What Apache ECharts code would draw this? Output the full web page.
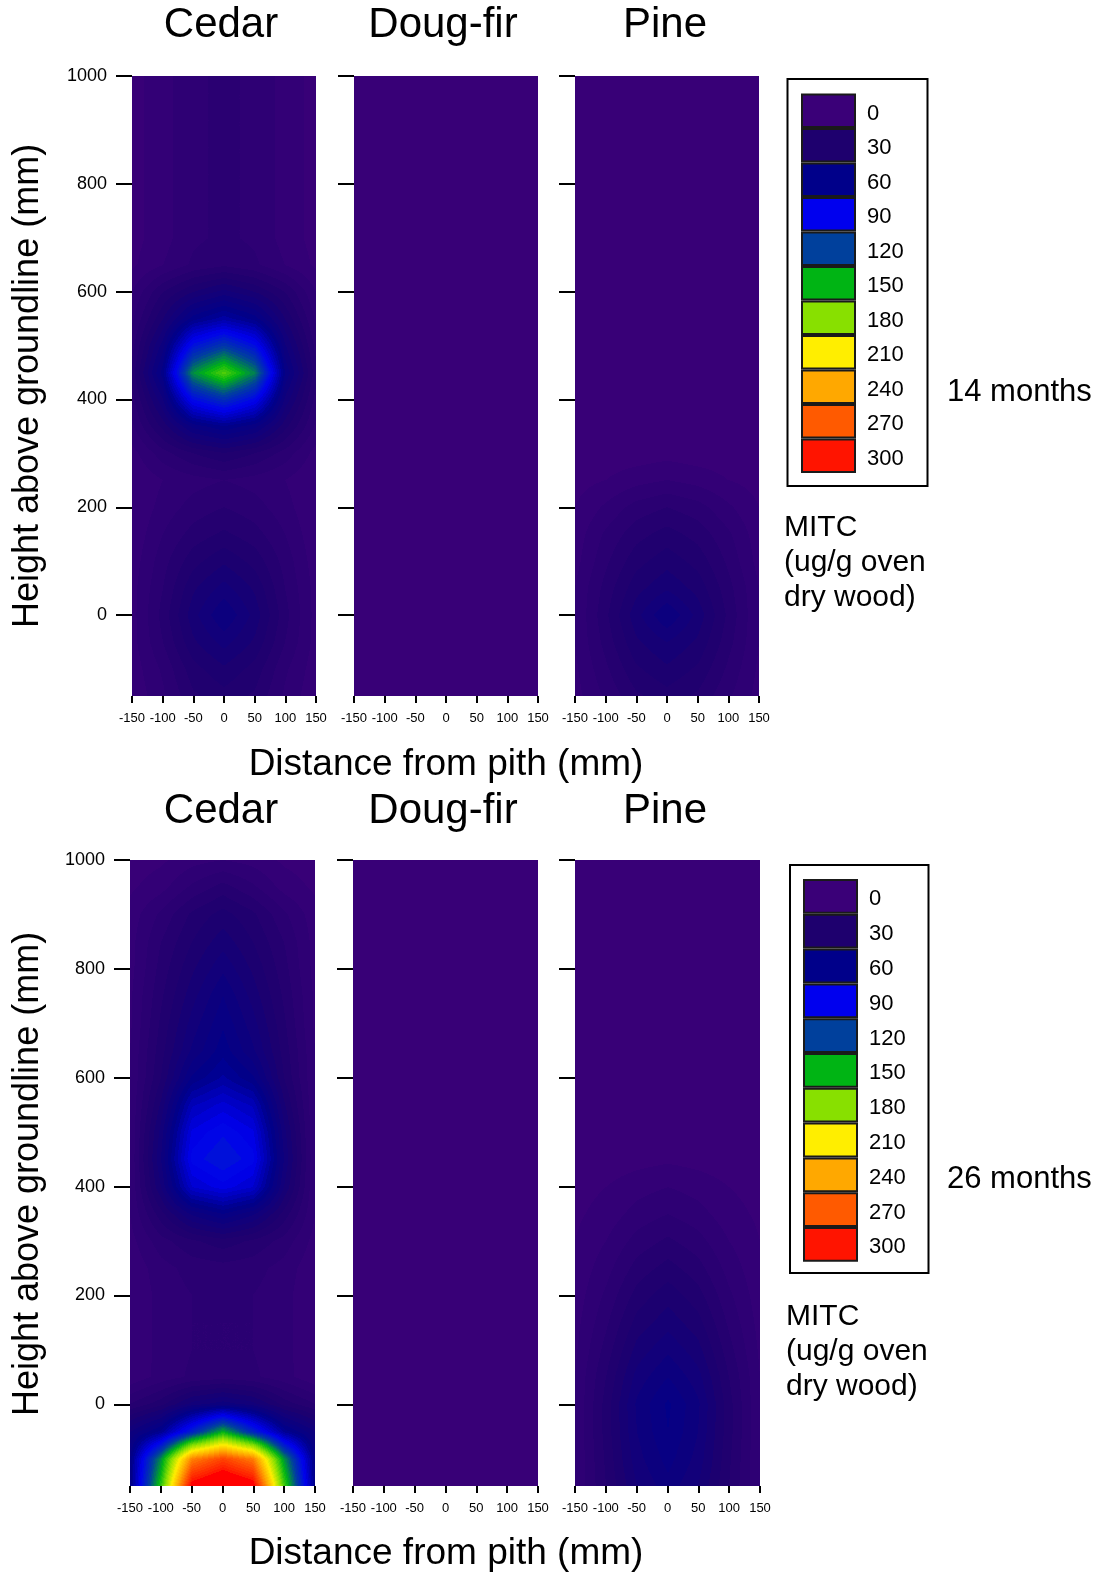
<!DOCTYPE html>
<html>
<head>
<meta charset="utf-8">
<script src="https://cdn.jsdelivr.net/npm/echarts@6/dist/echarts.min.js"></script>
<style>
  html, body { margin: 0; padding: 0; background: #fff; }
  #chart { width: 1101px; height: 1574px; }
</style>
</head>
<body>
<div id="chart"></div>
<script>
// Sampling grid: radial distance from pith (mm) and height above groundline (mm)
const distances = [-150, -100, -50, 0, 50, 100, 150];
const heights = [-150, -100, -50, 0, 50, 100, 150, 200, 250, 300, 350, 400,
                 450, 500, 550, 600, 650, 700, 750, 800, 850, 900, 950, 1000];
const heightsEnds = [-150, 1000];

// Contour levels of MITC (ug/g oven dry wood) and their fill colours
const levels = [0, 30, 60, 90, 120, 150, 180, 210, 240, 270, 300];
const levelColors = ['#3a0078', '#1e006e', '#00008a', '#0000ee', '#00409c', '#00b414',
                     '#88e000', '#ffee00', '#ffa800', '#ff5a00', '#ff1400'];

const species = ['Cedar', 'Doug-fir', 'Pine'];
const periods = ['14 months', '26 months'];
const unitLines = ['MITC', '(ug/g oven', 'dry wood)'];
const yTickValues = [0, 200, 400, 600, 800, 1000];

// MITC concentrations, one row per height (bottom to top), one column per distance
const cedar14 = [
  [6, 14, 24, 28, 24, 14, 6],
  [7, 16, 28, 34, 28, 16, 7],
  [8, 20, 34, 42, 34, 20, 8],
  [8, 22, 38, 50, 38, 22, 8],
  [8, 20, 34, 42, 34, 20, 8],
  [7, 18, 28, 34, 28, 18, 7],
  [6, 15, 22, 26, 22, 15, 6],
  [5, 12, 17, 20, 17, 12, 5],
  [5, 10, 13, 15, 13, 10, 5],
  [8, 18, 25, 30, 25, 18, 8],
  [14, 32, 52, 60, 52, 32, 14],
  [18, 45, 95, 112, 93, 44, 18],
  [22, 58, 140, 168, 136, 55, 22],
  [18, 48, 98, 116, 96, 46, 18],
  [14, 35, 58, 68, 58, 35, 14],
  [10, 25, 35, 42, 35, 25, 10],
  [4, 10, 16, 19, 16, 10, 4],
  [3, 8, 14, 16, 14, 8, 3],
  [3, 8, 14, 16, 14, 8, 3],
  [3, 8, 14, 16, 14, 8, 3],
  [3, 8, 14, 16, 14, 8, 3],
  [3, 8, 14, 16, 14, 8, 3],
  [3, 8, 14, 16, 14, 8, 3],
  [3, 8, 14, 16, 14, 8, 3]
];
const dougfir14 = [
  [2, 2, 2, 2, 2, 2, 2],
  [2, 2, 2, 2, 2, 2, 2]
];
const pine14 = [
  [8, 16, 24, 28, 24, 16, 8],
  [9, 19, 29, 34, 29, 19, 9],
  [10, 22, 34, 40, 34, 22, 10],
  [10, 24, 38, 50, 38, 24, 10],
  [10, 22, 33, 39, 33, 22, 10],
  [8, 19, 28, 33, 28, 19, 8],
  [7, 16, 23, 27, 23, 16, 7],
  [5, 11, 17, 20, 17, 11, 5],
  [3, 5, 8, 10, 8, 5, 3],
  [2, 2, 2, 3, 2, 2, 2],
  [2, 2, 2, 3, 2, 2, 2],
  [2, 2, 2, 3, 2, 2, 2],
  [2, 2, 2, 3, 2, 2, 2],
  [2, 2, 2, 3, 2, 2, 2],
  [2, 2, 2, 3, 2, 2, 2],
  [2, 2, 2, 3, 2, 2, 2],
  [2, 2, 2, 3, 2, 2, 2],
  [2, 2, 2, 3, 2, 2, 2],
  [2, 2, 2, 3, 2, 2, 2],
  [2, 2, 2, 3, 2, 2, 2],
  [2, 2, 2, 3, 2, 2, 2],
  [2, 2, 2, 3, 2, 2, 2],
  [2, 2, 2, 3, 2, 2, 2],
  [2, 2, 2, 3, 2, 2, 2]
];
const cedar26 = [
  [55, 160, 310, 330, 312, 165, 58],
  [55, 140, 255, 280, 257, 142, 55],
  [45, 62, 105, 150, 107, 64, 45],
  [20, 28, 42, 48, 42, 28, 20],
  [6, 12, 16, 18, 16, 12, 6],
  [5, 12, 15, 15, 15, 12, 5],
  [5, 12, 15, 15, 15, 12, 5],
  [5, 12, 15, 16, 15, 12, 5],
  [6, 13, 17, 18, 17, 13, 6],
  [8, 18, 24, 28, 24, 18, 8],
  [10, 28, 46, 55, 46, 28, 10],
  [10, 40, 80, 88, 80, 40, 10],
  [10, 45, 92, 100, 92, 45, 10],
  [10, 42, 86, 94, 86, 42, 10],
  [10, 36, 74, 82, 74, 36, 10],
  [10, 30, 56, 66, 56, 30, 10],
  [10, 28, 46, 58, 46, 28, 10],
  [9, 26, 42, 54, 42, 26, 9],
  [9, 24, 38, 50, 38, 24, 9],
  [8, 22, 34, 44, 34, 22, 8],
  [8, 20, 30, 38, 30, 20, 8],
  [7, 16, 26, 32, 26, 16, 7],
  [4, 8, 16, 22, 16, 8, 4],
  [2, 4, 8, 10, 8, 4, 2]
];
const dougfir26 = [
  [2, 2, 2, 2, 2, 2, 2],
  [2, 2, 2, 2, 2, 2, 2]
];
const pine26 = [
  [10, 25, 40, 48, 40, 25, 10],
  [10, 26, 43, 52, 43, 26, 10],
  [10, 27, 45, 55, 45, 27, 10],
  [10, 27, 46, 56, 46, 27, 10],
  [10, 25, 42, 50, 42, 25, 10],
  [9, 22, 37, 44, 37, 22, 9],
  [8, 19, 32, 38, 32, 19, 8],
  [7, 16, 27, 33, 27, 16, 7],
  [6, 13, 22, 27, 22, 13, 6],
  [5, 10, 17, 21, 17, 10, 5],
  [4, 7, 12, 15, 12, 7, 4],
  [3, 5, 8, 10, 8, 5, 3],
  [2, 2, 3, 4, 3, 2, 2],
  [2, 2, 2, 2, 2, 2, 2],
  [2, 2, 2, 2, 2, 2, 2],
  [2, 2, 2, 2, 2, 2, 2],
  [2, 2, 2, 2, 2, 2, 2],
  [2, 2, 2, 2, 2, 2, 2],
  [2, 2, 2, 2, 2, 2, 2],
  [2, 2, 2, 2, 2, 2, 2],
  [2, 2, 2, 2, 2, 2, 2],
  [2, 2, 2, 2, 2, 2, 2],
  [2, 2, 2, 2, 2, 2, 2],
  [2, 2, 2, 2, 2, 2, 2]
];

// Panels: row = sampling period, col = species
const panels = [
  { row: 0, col: 0, values: cedar14, ys: heights },
  { row: 0, col: 1, values: dougfir14, ys: heightsEnds },
  { row: 0, col: 2, values: pine14, ys: heights },
  { row: 1, col: 0, values: cedar26, ys: heights },
  { row: 1, col: 1, values: dougfir26, ys: heightsEnds },
  { row: 1, col: 2, values: pine26, ys: heights }
];

// ---- layout ----
const FONT = "'Liberation Sans', Arial, Helvetica, sans-serif";
const rowLayout = [
  { top: 76, height: 620, lefts: [132, 354, 575], width: 184,
    titleY: 25, xNameY: 765, yNameY: 386,
    legend: { x: 787.5, y: 79, w: 140, h: 407, swX: 802, swY: 94.5, pitch: 34.5 },
    periodY: 392, unitY: 528 },
  { top: 860, height: 626, lefts: [130, 353, 575], width: 185,
    titleY: 811, xNameY: 1554, yNameY: 1174,
    legend: { x: 790, y: 865, w: 138.5, h: 408, swX: 804, swY: 880, pitch: 34.8 },
    periodY: 1179, unitY: 1317 }
];
const titleX = [221, 443, 665];

// ---- colour scale ----
function hexToRgb(h) {
  return [parseInt(h.slice(1, 3), 16), parseInt(h.slice(3, 5), 16), parseInt(h.slice(5, 7), 16)];
}
const levelRgb = levelColors.map(hexToRgb);
const STEP = levels[1] - levels[0];
const TOP_RGB = [255, 0, 0];   // fill above the highest contour level
function colorFor(v) {
  if (v > levels[levels.length - 1]) return TOP_RGB;
  // filled contour bands 5 units wide
  let q = Math.floor(v / 5) * 5 + 2.5;
  q = Math.max(levels[0], Math.min(levels[levels.length - 1], q));
  let i = Math.min(Math.floor((q - levels[0]) / STEP), levels.length - 2);
  const t = (q - levels[i]) / STEP;
  const a = levelRgb[i], b = levelRgb[i + 1];
  return [a[0] + (b[0] - a[0]) * t, a[1] + (b[1] - a[1]) * t, a[2] + (b[2] - a[2]) * t];
}

// cells between neighbouring sample points: [x0, y0, x1, y1, v00, v10, v01, v11]
function buildCells(values, ys) {
  const cells = [];
  for (let j = 0; j < ys.length - 1; j++) {
    for (let i = 0; i < distances.length - 1; i++) {
      cells.push([distances[i], ys[j], distances[i + 1], ys[j + 1],
        values[j][i], values[j][i + 1], values[j + 1][i], values[j + 1][i + 1]]);
    }
  }
  return cells;
}

function renderCell(params, api) {
  const pA = api.coord([api.value(0), api.value(1)]);
  const pB = api.coord([api.value(2), api.value(3)]);
  const x0 = Math.round(Math.min(pA[0], pB[0]));
  const x1 = Math.round(Math.max(pA[0], pB[0]));
  const y0 = Math.round(Math.min(pA[1], pB[1]));
  const y1 = Math.round(Math.max(pA[1], pB[1]));
  const w = Math.max(1, x1 - x0), h = Math.max(1, y1 - y0);
  const v00 = api.value(4), v10 = api.value(5), v01 = api.value(6), v11 = api.value(7);
  const cv = document.createElement('canvas');
  cv.width = w; cv.height = h;
  const ctx = cv.getContext('2d');
  const img = ctx.createImageData(w, h);
  for (let py = 0; py < h; py++) {
    const t = 1 - (py + 0.5) / h;          // 0 at lower height, 1 at upper
    for (let px = 0; px < w; px++) {
      const u = (px + 0.5) / w;            // 0 at left distance, 1 at right
      const v = (1 - u) * (1 - t) * v00 + u * (1 - t) * v10 + (1 - u) * t * v01 + u * t * v11;
      const c = colorFor(v);
      const k = (py * w + px) * 4;
      img.data[k] = c[0]; img.data[k + 1] = c[1]; img.data[k + 2] = c[2]; img.data[k + 3] = 255;
    }
  }
  ctx.putImageData(img, 0, 0);
  return { type: 'image', silent: true, style: { image: cv, x: x0, y: y0, width: w, height: h } };
}

const grids = [], xAxes = [], yAxes = [], series = [];
panels.forEach((p, k) => {
  const L = rowLayout[p.row];
  grids.push({ left: L.lefts[p.col], top: L.top, width: L.width, height: L.height });
  xAxes.push({
    gridIndex: k, type: 'value', position: 'bottom', min: -150, max: 150, interval: 50,
    axisLine: { show: false, onZero: false }, splitLine: { show: false },
    axisTick: { show: true, length: 7, lineStyle: { color: '#000', width: 2 } },
    axisLabel: { color: '#000', fontSize: 13, fontFamily: FONT, margin: 16,
                 showMinLabel: true, showMaxLabel: true }
  });
  yAxes.push({
    gridIndex: k, type: 'value', position: 'left', min: -150, max: 1000,
    axisLine: { show: false, onZero: false }, splitLine: { show: false },
    axisTick: { show: true, length: 16, customValues: yTickValues,
                lineStyle: { color: '#000', width: 2 } },
    axisLabel: { show: p.col === 0, customValues: yTickValues, color: '#000',
                 fontSize: 18, fontFamily: FONT, margin: 25,
                 formatter: (v) => String(v) }
  });
  series.push({
    type: 'custom', xAxisIndex: k, yAxisIndex: k,
    coordinateSystem: 'cartesian2d',
    encode: { x: [0, 2], y: [1, 3] },
    renderItem: renderCell,
    data: buildCells(p.values, p.ys),
    silent: true
  });
});

// titles, axis names, period labels and contour legends
const graphics = [];
rowLayout.forEach((L, r) => {
  species.forEach((s, c) => {
    graphics.push({ type: 'text', x: titleX[c], y: L.titleY,
      style: { text: s, font: '42px ' + FONT, fill: '#000', align: 'center', verticalAlign: 'middle' } });
  });
  graphics.push({ type: 'text', x: 446, y: L.xNameY,
    style: { text: 'Distance from pith (mm)', font: '37px ' + FONT, fill: '#000',
             align: 'center', verticalAlign: 'middle' } });
  graphics.push({ type: 'text', x: 28, y: L.yNameY, rotation: Math.PI / 2,
    style: { text: 'Height above groundline (mm)', font: '36px ' + FONT, fill: '#000',
             align: 'center', verticalAlign: 'middle' } });
  graphics.push({ type: 'text', x: 947, y: L.periodY,
    style: { text: periods[r], font: '31px ' + FONT, fill: '#000',
             align: 'left', verticalAlign: 'middle' } });
  unitLines.forEach((line, i) => {
    graphics.push({ type: 'text', x: r === 0 ? 784 : 786, y: L.unitY + i * 35,
      style: { text: line, font: '30px ' + FONT, fill: '#000', align: 'left', verticalAlign: 'middle' } });
  });
  const g = L.legend;
  graphics.push({ type: 'rect', shape: { x: g.x, y: g.y, width: g.w, height: g.h },
    style: { fill: '#fff', stroke: '#000', lineWidth: 2 } });
  levels.forEach((lv, i) => {
    const sy = g.swY + i * g.pitch;
    graphics.push({ type: 'rect', shape: { x: g.swX, y: sy, width: 53, height: g.pitch - 2 },
      style: { fill: levelColors[i], stroke: '#1a1a1a', lineWidth: 2 } });
    graphics.push({ type: 'text', x: g.swX + 65, y: sy + (g.pitch - 2) / 2 + 3,
      style: { text: String(lv), font: '22px ' + FONT, fill: '#000', align: 'left', verticalAlign: 'middle' } });
  });
});

const chart = echarts.init(document.getElementById('chart'), null, { renderer: 'canvas' });
chart.setOption({
  animation: false,
  backgroundColor: '#fff',
  grid: grids,
  xAxis: xAxes,
  yAxis: yAxes,
  series: series,
  graphic: graphics
});
</script>
</body>
</html>
